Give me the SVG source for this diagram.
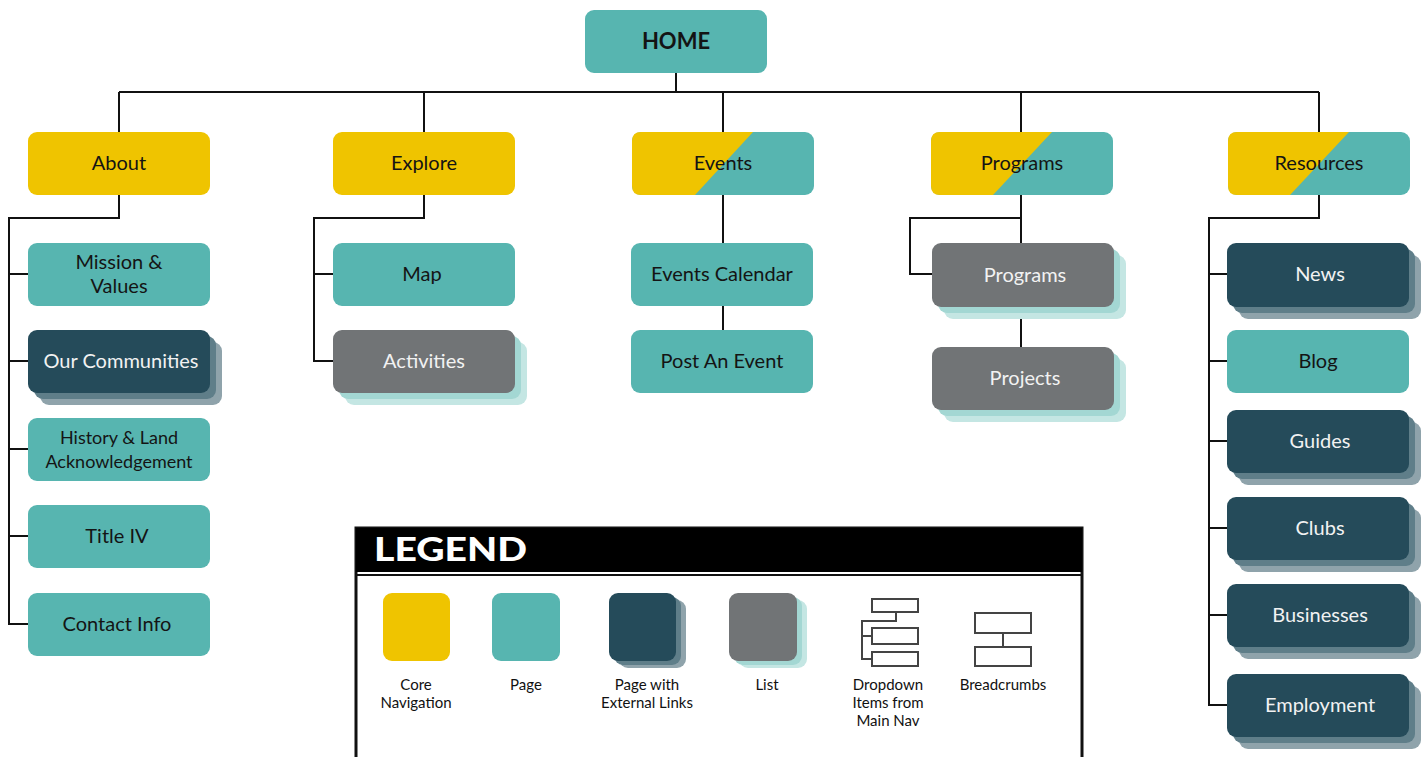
<svg xmlns="http://www.w3.org/2000/svg" width="1426" height="757" viewBox="0 0 1426 757">
<style>
.teal{fill:#57b5b0}
.yel{fill:#efc400}
.dark{fill:#254b5a}
.gray{fill:#717476}
.ds1{fill:#5f7e89}
.ds2{fill:#8fa3ab}
.ls1{fill:#a3d7d3}
.ls2{fill:#c4e6e3}
.t{font-family:Lato,"Open Sans","Liberation Sans",sans-serif;font-size:20px;text-anchor:middle;fill:#141414}
.w{fill:#f2f2f2}
.s{font-size:18px}
.lg{font-family:Lato,"Liberation Sans",sans-serif;font-size:15px;text-anchor:middle;fill:#111}
.ln{fill:none;stroke:#111;stroke-width:2}
.ic{fill:#fff;stroke:#444;stroke-width:2}
</style>
<g id="connectors" class="ln">
<path d="M676,73V92M119,92H1319M119,92V132M424,92V132M723,92V132M1021,92V132M1319,92V132"/>
<path d="M119,195V218H9V624H28M9,274H28M9,361H28M9,449H28M9,536H28"/>
<path d="M424,195V218H314V361H333M314,274H333"/>
<path d="M723,195V243M723,306V330"/>
<path d="M1021,195V243M1021,218H910V274H932M1021,307V347"/>
<path d="M1319,195V218H1209V705H1227M1209,274H1227M1209,361H1227M1209,441H1227M1209,528H1227M1209,615H1227"/>
</g>
<g id="home"><rect class="teal" x="585" y="10" width="182" height="63" rx="9"/><text class="t" x="676" y="49" style="font-weight:bold;font-size:22px">HOME</text></g>
<g id="about"><rect class="yel" x="28" y="132" width="182" height="63" rx="9"/><text class="t" x="119" y="170">About</text></g>
<g id="explore"><rect class="yel" x="333" y="132" width="182" height="63" rx="9"/><text class="t" x="424" y="170">Explore</text></g>
<g id="events"><rect class="teal" x="632" y="132" width="182" height="63" rx="9"/><path class="yel" d="M641,132H753L695,195H641Q632,195 632,186V141Q632,132 641,132Z"/><text class="t" x="723" y="170">Events</text></g>
<g id="programs"><rect class="teal" x="931" y="132" width="182" height="63" rx="9"/><path class="yel" d="M940,132H1052L993,195H940Q931,195 931,186V141Q931,132 940,132Z"/><text class="t" x="1022" y="170">Programs</text></g>
<g id="resources"><rect class="teal" x="1228" y="132" width="182" height="63" rx="9"/><path class="yel" d="M1237,132H1349L1290,195H1237Q1228,195 1228,186V141Q1228,132 1237,132Z"/><text class="t" x="1319" y="170">Resources</text></g>
<g id="mission"><rect class="teal" x="28" y="243" width="182" height="63" rx="9"/><text class="t" x="119" y="269">Mission &amp;</text><text class="t" x="119" y="293">Values</text></g>
<g id="communities"><rect class="ds2" x="40" y="342" width="182" height="63" rx="9"/><rect class="ds1" x="34" y="336" width="182" height="63" rx="9"/><rect class="dark" x="28" y="330" width="182" height="63" rx="9"/><text class="t w" x="121" y="368">Our Communities</text></g>
<g id="history"><rect class="teal" x="28" y="418" width="182" height="63" rx="9"/><text class="t s" x="119" y="444">History &amp; Land</text><text class="t s" x="119" y="468">Acknowledgement</text></g>
<g id="title4"><rect class="teal" x="28" y="505" width="182" height="63" rx="9"/><text class="t" x="117" y="543">Title IV</text></g>
<g id="contact"><rect class="teal" x="28" y="593" width="182" height="63" rx="9"/><text class="t" x="117" y="631">Contact Info</text></g>
<g id="map"><rect class="teal" x="333" y="243" width="182" height="63" rx="9"/><text class="t" x="422" y="281">Map</text></g>
<g id="activities"><rect class="ls2" x="345" y="342" width="182" height="63" rx="9"/><rect class="ls1" x="339" y="336" width="182" height="63" rx="9"/><rect class="gray" x="333" y="330" width="182" height="63" rx="9"/><text class="t w" x="424" y="368">Activities</text></g>
<g id="calendar"><rect class="teal" x="631" y="243" width="182" height="63" rx="9"/><text class="t" x="722" y="281">Events Calendar</text></g>
<g id="post"><rect class="teal" x="631" y="330" width="182" height="63" rx="9"/><text class="t" x="722" y="368">Post An Event</text></g>
<g id="programs-list"><rect class="ls2" x="944" y="255" width="182" height="64" rx="9"/><rect class="ls1" x="938" y="249" width="182" height="64" rx="9"/><rect class="gray" x="932" y="243" width="182" height="64" rx="9"/><text class="t w" x="1025" y="282">Programs</text></g>
<g id="projects"><rect class="ls2" x="944" y="359" width="182" height="63" rx="9"/><rect class="ls1" x="938" y="353" width="182" height="63" rx="9"/><rect class="gray" x="932" y="347" width="182" height="63" rx="9"/><text class="t w" x="1025" y="385">Projects</text></g>
<g id="news"><rect class="ds2" x="1239" y="255" width="182" height="64" rx="9"/><rect class="ds1" x="1233" y="249" width="182" height="64" rx="9"/><rect class="dark" x="1227" y="243" width="182" height="64" rx="9"/><text class="t w" x="1320" y="281">News</text></g>
<g id="blog"><rect class="teal" x="1227" y="330" width="182" height="63" rx="9"/><text class="t" x="1318" y="368">Blog</text></g>
<g id="guides"><rect class="ds2" x="1239" y="422" width="182" height="63" rx="9"/><rect class="ds1" x="1233" y="416" width="182" height="63" rx="9"/><rect class="dark" x="1227" y="410" width="182" height="63" rx="9"/><text class="t w" x="1320" y="448">Guides</text></g>
<g id="clubs"><rect class="ds2" x="1239" y="509" width="182" height="63" rx="9"/><rect class="ds1" x="1233" y="503" width="182" height="63" rx="9"/><rect class="dark" x="1227" y="497" width="182" height="63" rx="9"/><text class="t w" x="1320" y="535">Clubs</text></g>
<g id="businesses"><rect class="ds2" x="1239" y="596" width="182" height="63" rx="9"/><rect class="ds1" x="1233" y="590" width="182" height="63" rx="9"/><rect class="dark" x="1227" y="584" width="182" height="63" rx="9"/><text class="t w" x="1320" y="622">Businesses</text></g>
<g id="employment"><rect class="ds2" x="1239" y="686" width="182" height="63" rx="9"/><rect class="ds1" x="1233" y="680" width="182" height="63" rx="9"/><rect class="dark" x="1227" y="674" width="182" height="63" rx="9"/><text class="t w" x="1320" y="712">Employment</text></g>
<g id="legend">
<rect x="356" y="528" width="726" height="240" fill="#fff" stroke="#111" stroke-width="3"/>
<rect x="356" y="528" width="726" height="44" fill="#000"/>
<line x1="356" y1="575" x2="1082" y2="575" stroke="#111" stroke-width="2"/>
<text x="374" y="561" textLength="153" lengthAdjust="spacingAndGlyphs" style="font-family:Lato,'Liberation Sans',sans-serif;font-weight:900;font-size:32px;fill:#fff">LEGEND</text>
<rect class="yel" x="383" y="593" width="67" height="68" rx="9"/>
<rect class="teal" x="492" y="593" width="68" height="68" rx="9"/>
<rect class="ds2" x="619" y="600" width="67" height="68" rx="9"/><rect class="ds1" x="614" y="597" width="67" height="68" rx="9"/><rect class="dark" x="609" y="593" width="67" height="68" rx="9"/>
<rect class="ls2" x="739" y="600" width="68" height="68" rx="9"/><rect class="ls1" x="734" y="597" width="68" height="68" rx="9"/><rect class="gray" x="729" y="593" width="68" height="68" rx="9"/>
<rect class="ic" x="872" y="599" width="46" height="13"/>
<rect class="ic" x="872" y="628" width="46" height="16"/>
<rect class="ic" x="872" y="652" width="46" height="14"/>
<path class="ln" style="stroke:#444" d="M896,612V621H862V659H872M862,636H872"/>
<rect class="ic" x="975" y="613" width="56" height="20"/>
<rect class="ic" x="975" y="647" width="56" height="19"/>
<path class="ln" style="stroke:#444" d="M1003,633V647"/>
<text class="lg" x="416" y="690">Core</text><text class="lg" x="416" y="708">Navigation</text>
<text class="lg" x="526" y="690">Page</text>
<text class="lg" x="647" y="690">Page with</text><text class="lg" x="647" y="708">External Links</text>
<text class="lg" x="767" y="690">List</text>
<text class="lg" x="888" y="690">Dropdown</text><text class="lg" x="888" y="708">Items from</text><text class="lg" x="888" y="726">Main Nav</text>
<text class="lg" x="1003" y="690">Breadcrumbs</text>
</g>
</svg>
